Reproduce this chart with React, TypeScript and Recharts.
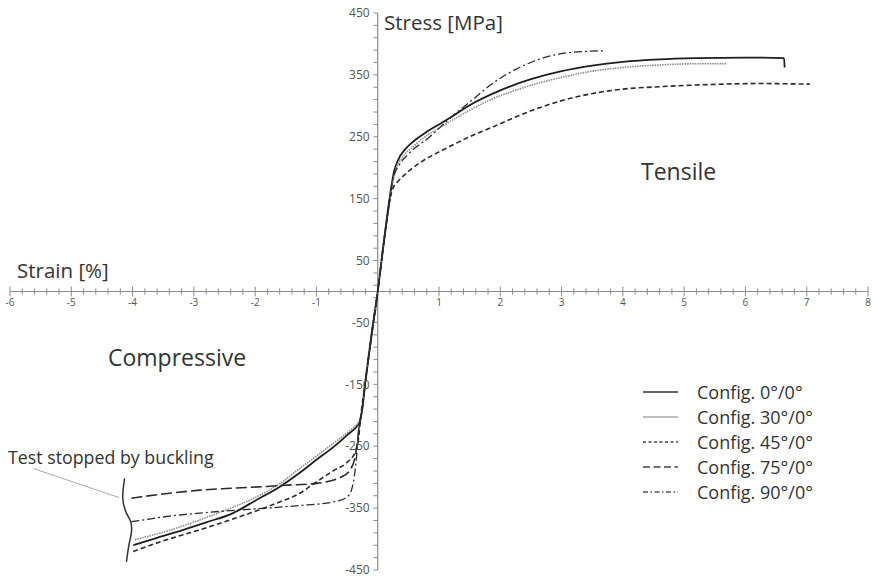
import React from 'react';
import { LineChart, Line, XAxis, YAxis, ReferenceLine, ReferenceDot, Legend } from 'recharts';

const W = 874;
const H = 582;
const FONT = '"Open Sans", "Liberation Sans", sans-serif';

// Strain [%] / Stress [MPa] per configuration (compressive end → tensile end)
const config0 = [
  { strain: -3.99, stress: -410 }, { strain: -3.6, stress: -398 }, { strain: -3.17, stress: -385 },
  { strain: -2.8, stress: -373 }, { strain: -2.36, stress: -358 }, { strain: -2.0, stress: -338 },
  { strain: -1.59, stress: -315 }, { strain: -1.3, stress: -295 }, { strain: -1.0, stress: -272 },
  { strain: -0.72, stress: -251 }, { strain: -0.5, stress: -232 }, { strain: -0.29, stress: -210 },
  { strain: -0.26, stress: -195 }, { strain: -0.2, stress: -145 }, { strain: -0.1, stress: -70 },
  { strain: 0, stress: 0 }, { strain: 0.1, stress: 80 }, { strain: 0.2, stress: 155 },
  { strain: 0.27, stress: 195 }, { strain: 0.33, stress: 212 }, { strain: 0.45, stress: 230 },
  { strain: 0.6, stress: 244 }, { strain: 0.8, stress: 258 }, { strain: 1.0, stress: 270 },
  { strain: 1.2, stress: 282 }, { strain: 1.5, stress: 301 }, { strain: 2.0, stress: 325 },
  { strain: 2.5, stress: 343 }, { strain: 3.0, stress: 356 }, { strain: 3.5, stress: 365 },
  { strain: 4.0, stress: 371 }, { strain: 4.6, stress: 375 }, { strain: 5.2, stress: 377 },
  { strain: 6.0, stress: 378 }, { strain: 6.63, stress: 377 }, { strain: 6.64, stress: 362 },
];

const config30 = [
  { strain: -3.96, stress: -401 }, { strain: -3.4, stress: -386 }, { strain: -2.9, stress: -369 },
  { strain: -2.5, stress: -354 }, { strain: -2.0, stress: -333 }, { strain: -1.59, stress: -310 },
  { strain: -1.3, stress: -288 }, { strain: -1.0, stress: -266 }, { strain: -0.72, stress: -245 },
  { strain: -0.5, stress: -228 }, { strain: -0.29, stress: -207 }, { strain: -0.26, stress: -192 },
  { strain: -0.2, stress: -140 }, { strain: -0.1, stress: -66 }, { strain: 0, stress: 0 },
  { strain: 0.1, stress: 78 }, { strain: 0.2, stress: 148 }, { strain: 0.25, stress: 178 },
  { strain: 0.3, stress: 198 }, { strain: 0.4, stress: 216 }, { strain: 0.6, stress: 236 },
  { strain: 0.8, stress: 252 }, { strain: 1.0, stress: 264 }, { strain: 1.34, stress: 284 },
  { strain: 1.8, stress: 308 }, { strain: 2.43, stress: 331 }, { strain: 3.0, stress: 346 },
  { strain: 3.5, stress: 356 }, { strain: 4.0, stress: 362 }, { strain: 4.6, stress: 366 },
  { strain: 5.2, stress: 368 }, { strain: 5.69, stress: 368 },
];

const config45 = [
  { strain: -3.99, stress: -420 }, { strain: -3.44, stress: -401 }, { strain: -2.9, stress: -385 },
  { strain: -2.5, stress: -372 }, { strain: -2.08, stress: -358 }, { strain: -1.6, stress: -340 },
  { strain: -1.27, stress: -326 }, { strain: -1.05, stress: -311 }, { strain: -0.73, stress: -290 },
  { strain: -0.5, stress: -276 }, { strain: -0.37, stress: -260 }, { strain: -0.31, stress: -235 },
  { strain: -0.28, stress: -205 }, { strain: -0.2, stress: -145 }, { strain: -0.1, stress: -70 },
  { strain: 0, stress: 0 }, { strain: 0.1, stress: 80 }, { strain: 0.2, stress: 150 },
  { strain: 0.25, stress: 167 }, { strain: 0.35, stress: 180 }, { strain: 0.5, stress: 194 },
  { strain: 0.75, stress: 212 }, { strain: 1.07, stress: 229 }, { strain: 1.5, stress: 250 },
  { strain: 1.88, stress: 266 }, { strain: 2.3, stress: 284 }, { strain: 2.7, stress: 299 },
  { strain: 3.1, stress: 311 }, { strain: 3.51, stress: 320 }, { strain: 4.0, stress: 327 },
  { strain: 4.61, stress: 331 }, { strain: 5.3, stress: 334 }, { strain: 6.24, stress: 336 },
  { strain: 7.05, stress: 335 },
];

const config75 = [
  { strain: -4.02, stress: -334 }, { strain: -3.88, stress: -332 }, { strain: -3.4, stress: -326 },
  { strain: -2.9, stress: -321 }, { strain: -2.4, stress: -318 }, { strain: -1.81, stress: -315 },
  { strain: -1.5, stress: -313 }, { strain: -1.0, stress: -310 }, { strain: -0.6, stress: -300 },
  { strain: -0.45, stress: -288 }, { strain: -0.38, stress: -272 }, { strain: -0.34, stress: -250 },
  { strain: -0.3, stress: -215 }, { strain: -0.26, stress: -195 }, { strain: -0.2, stress: -145 },
  { strain: -0.1, stress: -70 }, { strain: 0, stress: 0 }, { strain: 0.1, stress: 80 },
  { strain: 0.2, stress: 150 },
];

const config90 = [
  { strain: -4.02, stress: -372 }, { strain: -3.88, stress: -370 }, { strain: -3.4, stress: -363 },
  { strain: -2.9, stress: -358 }, { strain: -2.4, stress: -354 }, { strain: -1.81, stress: -350 },
  { strain: -1.3, stress: -346 }, { strain: -0.72, stress: -340 }, { strain: -0.5, stress: -332 },
  { strain: -0.42, stress: -318 }, { strain: -0.37, stress: -290 }, { strain: -0.33, stress: -250 },
  { strain: -0.3, stress: -215 }, { strain: -0.26, stress: -195 }, { strain: -0.2, stress: -145 },
  { strain: -0.1, stress: -70 }, { strain: 0, stress: 0 }, { strain: 0.1, stress: 80 },
  { strain: 0.2, stress: 150 }, { strain: 0.25, stress: 182 }, { strain: 0.35, stress: 204 },
  { strain: 0.5, stress: 222 }, { strain: 0.85, stress: 250 }, { strain: 1.18, stress: 280 },
  { strain: 1.5, stress: 306 }, { strain: 1.9, stress: 338 }, { strain: 2.4, stress: 366 },
  { strain: 2.97, stress: 384 }, { strain: 3.4, stress: 388 }, { strain: 3.71, stress: 389 },
];

// annotation: buckling brace and pointer
const bucklingBrace = [
  { strain: -4.13, stress: -302 }, { strain: -4.16, stress: -334 }, { strain: -4.1, stress: -358 },
  { strain: -4.03, stress: -372 }, { strain: -4.02, stress: -390 }, { strain: -4.06, stress: -410 },
  { strain: -4.1, stress: -437 },
];
const bucklingPointer = [
  { strain: -5.62, stress: -286 }, { strain: -4.22, stress: -333 },
];

// axis tick labels
const xTickLabels = [-6, -5, -4, -3, -2, -1, 1, 2, 3, 4, 5, 6, 7, 8];
const yTickLabels = [450, 350, 250, 150, 50, -50, -150, -250, -350, -450];
const xMinorStep = 0.2;
const yMinorStep = 20;

const xTicks: number[] = [];
for (let i = 0; i <= 70; i++) xTicks.push(Math.round((-6 + i * xMinorStep) * 10) / 10);
const yTicks: number[] = [];
for (let i = 0; i <= 45; i++) yTicks.push(-450 + i * yMinorStep);

const series = [
  { name: 'Config. 0°/0°', data: config0, stroke: '#1e1e1e', width: 1.8, dash: undefined, legendStroke: '#333', legendDash: undefined },
  { name: 'Config. 30°/0°', data: config30, stroke: '#8a8a8a', width: 1.6, dash: '1.5 1', legendStroke: '#aaa', legendDash: undefined },
  { name: 'Config. 45°/0°', data: config45, stroke: '#2a2a2a', width: 1.6, dash: '5 3', legendStroke: '#444', legendDash: '3 2.5' },
  { name: 'Config. 75°/0°', data: config75, stroke: '#2a2a2a', width: 1.6, dash: '11 4', legendStroke: '#444', legendDash: '7 3.5' },
  { name: 'Config. 90°/0°', data: config90, stroke: '#2a2a2a', width: 1.3, dash: '8 3 2 3', legendStroke: '#555', legendDash: '5 2.5 1.5 2.5' },
];

const AXIS = '#8c8c8c';

function LegendBox() {
  return (
    <div style={{ fontFamily: FONT, fontSize: 18, color: '#333' }}>
      {series.map((s) => (
        <div key={s.name} style={{ height: 25, display: 'flex', alignItems: 'center' }}>
          <svg width={36} height={10} style={{ marginLeft: 3 }}>
            <line x1={0} y1={5} x2={35} y2={5} stroke={s.legendStroke} strokeWidth={1.6} strokeDasharray={s.legendDash} />
          </svg>
          <span style={{ marginLeft: 18, whiteSpace: 'nowrap', lineHeight: 1 }}>{s.name}</span>
        </div>
      ))}
    </div>
  );
}

const textStyle = (left: number, cy: number, size: number): React.CSSProperties => ({
  position: 'absolute', left, top: cy, transform: 'translateY(-50%)', fontFamily: FONT,
  fontSize: size, color: '#333', lineHeight: 1, whiteSpace: 'nowrap', pointerEvents: 'none',
});

export default function App() {
  return (
    <div style={{ position: 'relative', width: W, height: H, background: '#fff' }}>
      <style>{'body{margin:0}'}</style>
      <LineChart width={W} height={H} margin={{ top: 13, right: 6, bottom: 12, left: 10 }}>
        <XAxis type="number" dataKey="strain" domain={[-6, 8]} hide allowDataOverflow />
        <YAxis type="number" dataKey="stress" domain={[-450, 450]} hide allowDataOverflow />
        <ReferenceLine y={0} stroke={AXIS} strokeWidth={1.2} />
        <ReferenceLine x={0} stroke={AXIS} strokeWidth={1.2} />
        {xTicks.map((t) => {
          const major = Number.isInteger(t);
          const h = major ? 8 : 5;
          return (
            <ReferenceLine key={'xt' + t} segment={[{ x: t, y: -h }, { x: t, y: h }]} stroke={AXIS} strokeWidth={1} />
          );
        })}
        {yTicks.map((v) => (
          <ReferenceLine key={'yt' + v} segment={[{ x: -0.07, y: v }, { x: 0, y: v }]} stroke={AXIS} strokeWidth={1} />
        ))}
        {xTickLabels.map((t) => (
          <ReferenceDot key={'xl' + t} x={t} y={0} r={1} fill="none" stroke="none"
            label={{ value: String(t), position: 'bottom', offset: 6, fill: '#555', fontSize: 10, fontFamily: FONT }} />
        ))}
        {yTickLabels.map((v) => (
          <ReferenceDot key={'yl' + v} x={0} y={v} r={1} fill="none" stroke="none"
            label={{ value: String(v), position: 'left', offset: 7, fill: '#555', fontSize: 12, fontFamily: FONT }} />
        ))}
        {series.map((s) => (
          <Line key={s.name} name={s.name} data={s.data} dataKey="stress" type="monotone"
            stroke={s.stroke} strokeWidth={s.width} strokeDasharray={s.dash}
            dot={false} activeDot={false} isAnimationActive={false} />
        ))}
        <Line data={bucklingBrace} dataKey="stress" type="natural" stroke="#333" strokeWidth={1.5}
          dot={false} activeDot={false} isAnimationActive={false} legendType="none" />
        <Line data={bucklingPointer} dataKey="stress" type="linear" stroke="#aaa" strokeWidth={1}
          dot={false} activeDot={false} isAnimationActive={false} legendType="none" />
        <Legend layout="vertical" align="center" verticalAlign="middle" content={() => <LegendBox />}
          wrapperStyle={{ left: 640, top: 379, width: 230, height: 125 }} />
      </LineChart>
      <div style={textStyle(384, 22, 20.5)}>Stress [MPa]</div>
      <div style={textStyle(17, 270, 20.5)}>Strain [%]</div>
      <div style={textStyle(641, 171, 23)}>Tensile</div>
      <div style={textStyle(108, 357, 23)}>Compressive</div>
      <div style={textStyle(8, 458, 17.8)}>Test stopped by buckling</div>
    </div>
  );
}
